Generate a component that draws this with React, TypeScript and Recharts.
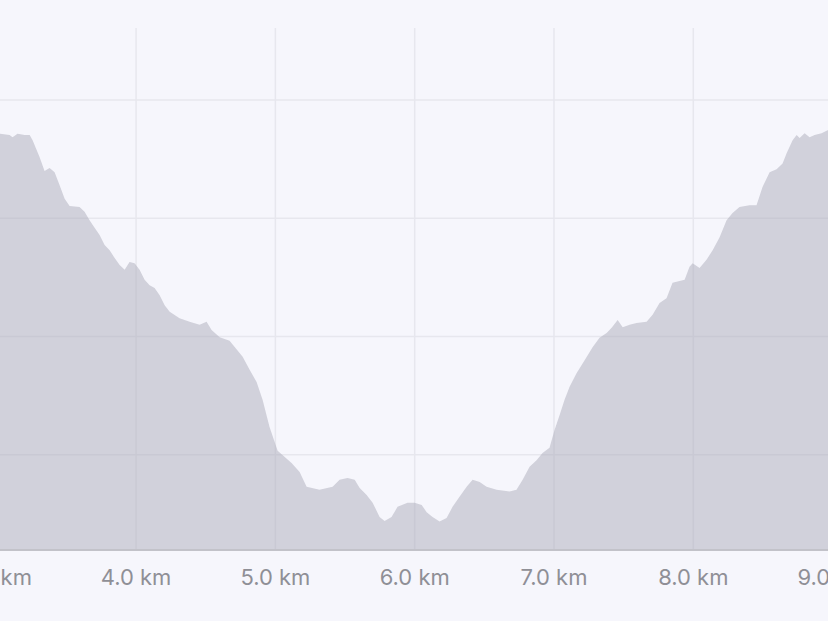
import React from "react";
import { AreaChart, Area, XAxis, YAxis, CartesianGrid } from "recharts";

// distance along the route (km)
const distanceKm = [
  3.0, 3.02, 3.092, 3.113, 3.149, 3.2, 3.236, 3.257, 3.307, 3.343, 3.379, 3.415, 3.451, 3.487, 3.523,
  3.594, 3.63, 3.666, 3.702, 3.738, 3.774, 3.81, 3.846, 3.882, 3.918, 3.953, 3.989, 4.025, 4.061,
  4.097, 4.133, 4.169, 4.205, 4.241, 4.312, 4.384, 4.456, 4.506, 4.542, 4.6, 4.671, 4.765, 4.815,
  4.865, 4.908, 4.958, 5.016, 5.116, 5.174, 5.224, 5.317, 5.411, 5.461, 5.518, 5.569, 5.605, 5.655,
  5.698, 5.748, 5.784, 5.834, 5.877, 5.949, 5.999, 6.05, 6.086, 6.128, 6.179, 6.229, 6.272, 6.322,
  6.373, 6.416, 6.466, 6.516, 6.588, 6.681, 6.731, 6.775, 6.825, 6.875, 6.918, 6.968, 7.004, 7.04,
  7.076, 7.112, 7.162, 7.22, 7.277, 7.327, 7.378, 7.414, 7.457, 7.493, 7.543, 7.593, 7.665, 7.708,
  7.758, 7.808, 7.851, 7.902, 7.938, 7.973, 7.995, 8.045, 8.095, 8.139, 8.189, 8.239, 8.282, 8.332,
  8.404, 8.454, 8.497, 8.548, 8.598, 8.641, 8.67, 8.713, 8.742, 8.763, 8.799, 8.835, 8.871, 8.921,
  8.964, 9.0,
];

// elevation (m)
const elevationM = [
  94.2, 94.3, 94.1, 93.7, 94.3, 94.1, 94.1, 93.2, 90.4, 88.0, 88.5, 87.8, 85.6, 83.3, 82.1,
  81.9, 81.1, 79.7, 78.4, 77.2, 75.5, 74.6, 73.3, 72.1, 71.3, 72.6, 72.4, 71.3, 69.6,
  68.7, 68.2, 67.0, 65.3, 64.2, 63.1, 62.5, 62.0, 62.5, 61.1, 59.9, 59.3, 56.6, 54.4,
  52.3, 49.3, 44.7, 40.7, 38.6, 37.1, 34.6, 34.1, 34.6, 35.8, 36.1, 35.8, 34.4, 33.2,
  31.9, 29.5, 28.8, 29.5, 31.2, 31.9, 31.9, 31.5, 30.3, 29.5, 28.7, 29.3, 31.2, 32.9,
  34.6, 35.8, 35.4, 34.6, 34.1, 33.8, 34.1, 35.8, 38.0, 39.1, 40.3, 41.2, 44.2, 46.7,
  49.3, 51.5, 53.8, 56.0, 58.2, 59.8, 60.6, 61.5, 62.8, 61.6, 62.0, 62.3, 62.5, 63.7,
  65.7, 66.5, 69.1, 69.4, 69.6, 71.8, 72.4, 71.6, 73.0, 74.6, 76.8, 79.7, 80.9, 81.9,
  82.2, 82.2, 85.3, 87.8, 88.3, 89.3, 91.0, 93.2, 94.1, 93.6, 94.4, 93.7, 94.1, 94.4,
  94.9, 95.0,
];

const kmTicks = [3, 4, 5, 6, 7, 8, 9];
const elevationTicks = [40, 60, 80, 100];

const profile = distanceKm.map((km, i) => ({ km, elevation: elevationM[i] }));

export default function App() {
  return (
    <div
      style={{
        position: "fixed",
        left: 0,
        top: 0,
        width: 828,
        height: 621,
        overflow: "hidden",
        background: "#f6f6fc",
      }}
    >
      <div style={{ position: "absolute", left: -45.6, top: 0 }}>
        <AreaChart
          width={918.6}
          height={621}
          data={profile}
          margin={{ top: 28, right: 40, bottom: 0, left: 40 }}
        >
          <CartesianGrid
            stroke="#e7e7ee"
            strokeWidth={1.5}
            horizontalValues={elevationTicks}
            verticalValues={kmTicks}
          />
          <XAxis
            dataKey="km"
            type="number"
            domain={[2.98, 9.0]}
            ticks={kmTicks}
            interval={0}
            allowDataOverflow
            height={71}
            tickLine={false}
            tickSize={0}
            tickMargin={19}
            axisLine={{ stroke: "#c2c2c9", strokeWidth: 2 }}
            tickFormatter={(v: number) => `${v.toFixed(1)} km`}
            tick={{ fill: "#8f8f96", fontSize: 22, fontFamily: "Inter, 'Liberation Sans', sans-serif" }}
          />
          <YAxis hide domain={[23.9, 112.2]} ticks={elevationTicks} allowDataOverflow />
          <Area
            type="linear"
            dataKey="elevation"
            stroke="none"
            fill="#aeaebb"
            fillOpacity={0.52}
            isAnimationActive={false}
          />
        </AreaChart>
      </div>
    </div>
  );
}
